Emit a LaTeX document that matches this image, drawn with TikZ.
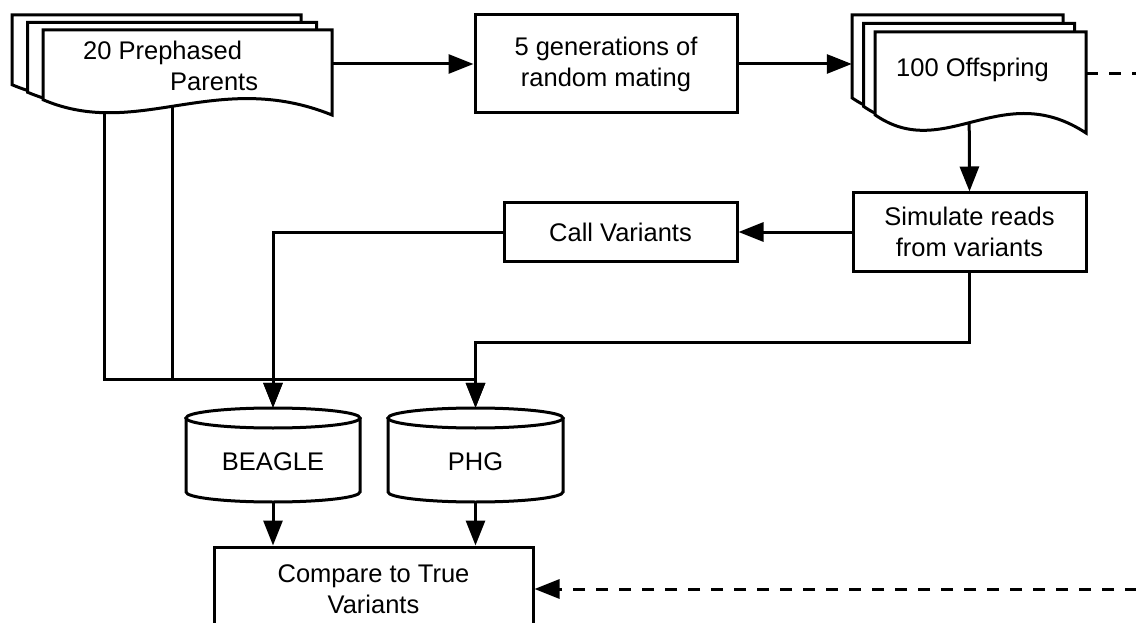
\documentclass[tikz,border=0pt]{standalone}
\usepackage{fontspec}
\setmainfont{Liberation Sans}
\usetikzlibrary{arrows.meta,backgrounds,calc}
\tikzset{
  ln/.style={line width=3pt, line join=miter},
  arr/.style={ln, -{Triangle[length=25pt,width=19pt]}},
  dashline/.style={dash pattern=on 12pt off 11pt},
  txt/.style={font=\fontsize{25.5}{31}\selectfont, align=center, inner sep=0pt},
  box/.style={ln, draw, fill=white, txt},
  frame/.style={draw=none, inner sep=0pt, minimum width=#1},
}
\newcommand\docshape[4]{%
  \filldraw[ln, fill=white] (#1,#2) -- ({#1+#3},#2) -- ({#1+#3},{#2+#4})
    .. controls ({#1+0.6*#3},{#2+0.45*#4}) and ({#1+0.33*#3},{#2+1.3*#4}) ..
    (#1,{#2+0.82*#4}) -- cycle;}
\newcommand\cylshape[4]{%
  \filldraw[ln, fill=white] (#1,{#2+10}) -- (#1,{#2+#4-10})
    arc[start angle=180, end angle=0, x radius={#3/2}, y radius=10]
    -- ({#1+#3},{#2+10});
  \filldraw[ln, fill=white] ({#1+#3/2},{#2+10}) ellipse [x radius={#3/2}, y radius=10];}
\begin{document}
\begin{tikzpicture}[x=1pt, y=-1pt]
\useasboundingbox (0,0) rectangle (1136,623);
\clip (0,0) rectangle (1136,623);

% multi-documents
\docshape{12}{15}{289}{85}
\docshape{27.5}{22.5}{289}{85}
\docshape{43}{30}{289}{85}
\node[frame=320pt, minimum height=100pt] (P) at (172,65) {};
\node[txt, anchor=west, align=left] (Pt) at (83,66) {20 Prephased\\\hspace*{87pt}Parents};

\docshape{852}{15}{211}{101}
\docshape{863.5}{23.5}{211}{101}
\docshape{875}{32}{211}{101}
\node[frame=234pt, minimum height=118pt] (O) at (969,74) {};
\node[txt] (Ot) at (972.5,70) {100 Offspring};

% boxes
\node[box, minimum width=262pt, minimum height=98pt] (G) at (606,64) {5 generations of\\random mating};
\node[box, minimum width=233pt, minimum height=78pt] (S) at (969.5,232) {Simulate reads\\from variants};
\node[box, minimum width=233pt, minimum height=58pt] (V) at (620.5,232) {Call Variants};
\node[box, minimum width=319pt, minimum height=84pt] (C) at (373.5,589) {Compare to True\\Variants};

% cylinders
\cylshape{186}{408}{174}{94}
\cylshape{388}{408}{175}{94}
\node[frame=174pt, minimum height=94pt] (B) at (273,455) {};
\node[frame=175pt, minimum height=94pt] (H) at (475.5,455) {};
\node[txt] (Bt) at (273,462) {BEAGLE};
\node[txt] (Ht) at (475.5,462) {PHG};

\path (B.north) ++(0,-28) coordinate (bB);
\path (H.north) ++(0,-28) coordinate (bH);

% connectors
\begin{scope}[on background layer]
  \draw[arr] ($(P.center)+(-68,0)$) |- (bB) -- (B.north);
  \draw[arr] (P.center) |- (bH) -- (H.north);
  \draw[arr] (O.center) -- (S.north);
\end{scope}
\draw[arr] (G.west -| P.east) -- (G.west);
\draw[arr] (G.east) -- (G.east -| O.west);
\draw[arr] (S.west) -- (V.east);
\draw[arr] (V.west) -| (B.north);
\draw[arr] (S.south) -- ++(0,70) -| (H.north);
\draw[arr] (B.south) -- (B.south |- C.north);
\draw[arr] (H.south) -- (H.south |- C.north);
\draw[arr, dashline] (O.east) -- ++(90,0) |- (C.east);
\end{tikzpicture}
\end{document}
